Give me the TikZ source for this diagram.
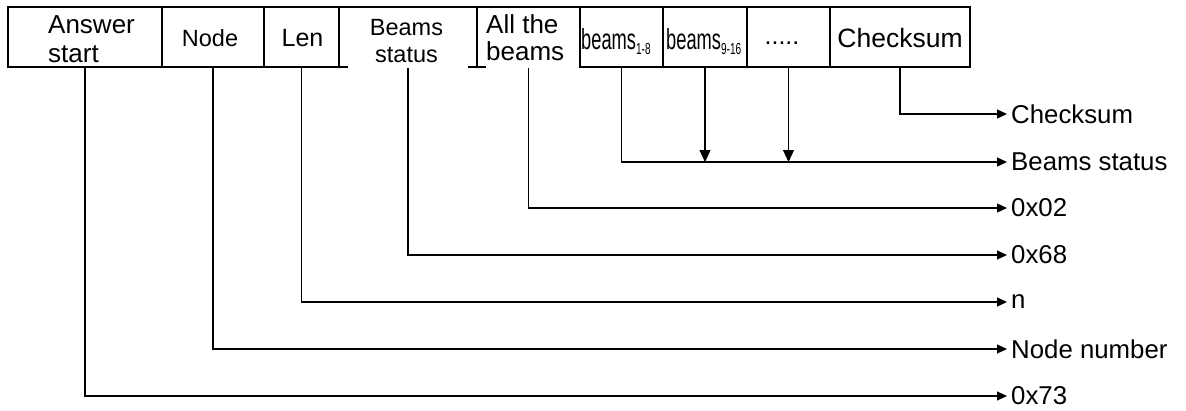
\documentclass[tikz,border=0pt]{standalone}
\usepackage{fontspec}
\setmainfont{Liberation Sans}
\usetikzlibrary{arrows.meta}
\begin{document}
\begin{tikzpicture}[x=1pt,y=-1pt,
  cell/.style={draw, line width=1.1pt, minimum height=60, inner sep=0pt},
  txt/.style={inner sep=0pt, font=\fontsize{25}{29}\selectfont},
  lbl/.style={inner sep=0pt, anchor=west, font=\fontsize{25.8}{29}\selectfont},
  arr/.style={line width=1.1pt, -{Triangle[length=10pt,width=9pt]}},
  darr/.style={line width=1.1pt, -{Triangle[length=12pt,width=11pt]}}
]
\path[use as bounding box] (0,0) rectangle (1186,410);
% cells
\node[cell, minimum width=154] (c1) at (85,37) {};
\node[cell, minimum width=102] (c2) at (213,37) {};
\node[cell, minimum width=75]  (c3) at (301.5,37) {};
\node[cell, minimum width=138] (c4) at (408,37) {};
\node[cell, minimum width=103] (c5) at (528.5,37) {};
\node[cell, minimum width=83]  (c6) at (621.5,37) {};
\node[cell, minimum width=84]  (c7) at (705,37) {};
\node[cell, minimum width=83]  (c8) at (788.5,37) {};
\node[cell, minimum width=140] (c9) at (900,37) {};
% white text boxes hiding the bottom line
\fill[white] (348,58) rectangle (468,72);
\fill[white] (486,58) rectangle (579,72);
% cell texts
\node[txt, anchor=base west, align=left, font=\fontsize{26}{29}\selectfont] (tAns) at (48,62) {Answer\\start};
\node[txt, anchor=base, font=\fontsize{23.5}{29}\selectfont] (tNode) at (210,46) {Node};
\node[txt, anchor=base] (tLen) at (302.5,46.5) {Len};
\node[txt, anchor=base, align=center, font=\fontsize{23.5}{27}\selectfont] (tBS) at (406.5,62) {Beams\\status};
\node[txt, anchor=base west, align=left, font=\fontsize{26}{27}\selectfont] (tAll) at (486,60) {All the\\beams};
\node[txt, anchor=base west] (tb1) at (581,49) {\scalebox{0.63}[1]{\fontsize{29}{29}\selectfont beams\raisebox{-5pt}{\fontsize{16}{16}\selectfont 1-8}}};
\node[txt, anchor=base west] (tb2) at (666,49) {\scalebox{0.63}[1]{\fontsize{29}{29}\selectfont beams\raisebox{-5pt}{\fontsize{16}{16}\selectfont 9-16}}};
\node[txt, anchor=base] (tdots) at (782,44) {.....};
\node[txt, anchor=base, font=\fontsize{26.5}{29}\selectfont] (tChk) at (900,47) {Checksum};
% right labels
\node[lbl] (lChk) at (1011,114) {Checksum};
\node[lbl] (lBS)  at (1011,162) {Beams status};
\node[lbl] (l02)  at (1011,208) {0x02};
\node[lbl] (l68)  at (1011,255) {0x68};
\node[lbl] (ln)   at (1011,302) {n};
\node[lbl] (lNN)  at (1011,349) {Node number};
\node[lbl] (l73)  at (1011,396) {0x73};
% connectors
\draw[arr] (c9.south) |- ([xshift=-4pt]lChk.west);
\draw[arr] (c6.south) |- ([xshift=-4pt]lBS.west);
\draw[darr] (c7.south) -- (c7.south |- lBS.west);
\draw[darr] (c8.south) -- (c8.south |- lBS.west);
\draw[arr] (c5.south) |- ([xshift=-4pt]l02.west);
\draw[arr] (c4.south) |- ([xshift=-4pt]l68.west);
\draw[arr] (c3.south) |- ([xshift=-4pt]ln.west);
\draw[arr] (c2.south) |- ([xshift=-4pt]lNN.west);
\draw[arr] (c1.south) |- ([xshift=-4pt]l73.west);
\end{tikzpicture}
\end{document}
